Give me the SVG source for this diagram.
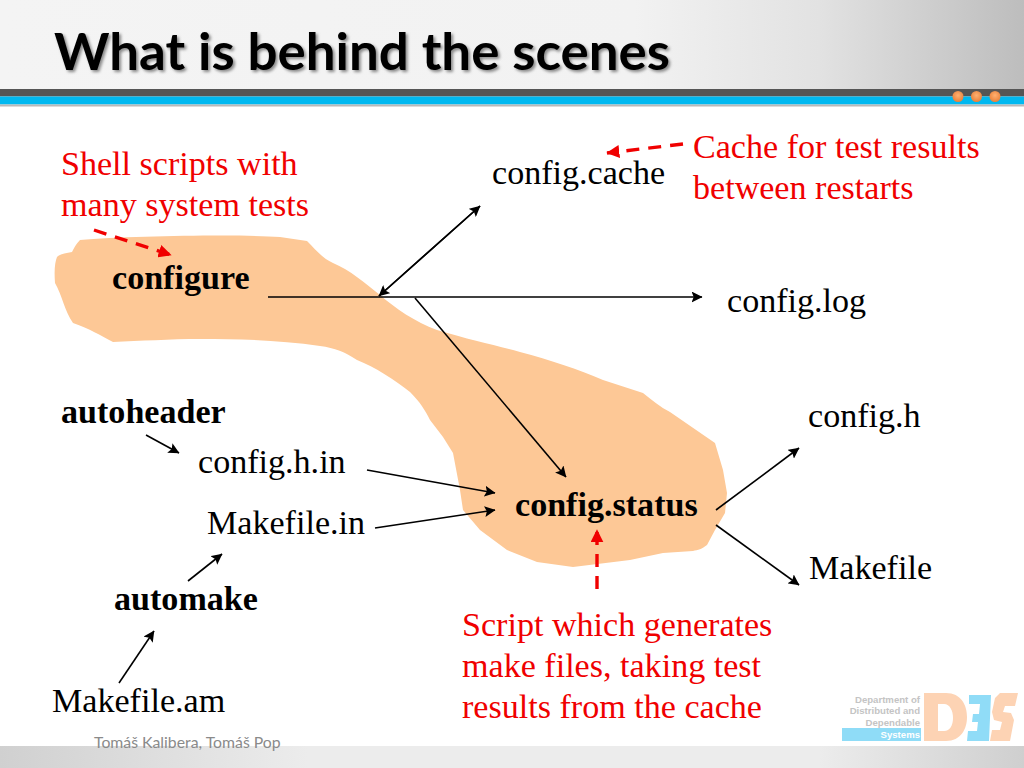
<svg xmlns="http://www.w3.org/2000/svg" width="1024" height="768" viewBox="0 0 1024 768">
<style>
.t{font-family:"Liberation Serif",serif;font-size:34.1px;fill:#000}
.b{font-weight:bold}
.r{fill:#f00000}
.c{stroke:#000;stroke-width:1.6;fill:none}
.d{stroke:#f00000;stroke-width:3.4;fill:none;stroke-dasharray:13 9}
.ti{font-family:Lato,"Open Sans",sans-serif;font-weight:700;font-size:52px}
.lg{font-family:"Liberation Sans",sans-serif;font-weight:bold;font-size:9.6px;fill:#c4c4c4;text-anchor:end}
</style>
<defs>
<linearGradient id="hd" x1="0" x2="1" y1="0" y2="0"><stop offset="0" stop-color="#f4f4f4"/><stop offset=".62" stop-color="#f2f2f2"/><stop offset=".8" stop-color="#e2e2e2"/><stop offset="1" stop-color="#bdbdbd"/></linearGradient>
<linearGradient id="ft" x1="0" x2="1" y1="0" y2="0"><stop offset="0" stop-color="#d0d0d0"/><stop offset=".3" stop-color="#ececec"/><stop offset=".8" stop-color="#ececec"/><stop offset="1" stop-color="#cfcfcf"/></linearGradient>
<radialGradient id="ball" cx=".5" cy=".4" r=".6"><stop offset="0" stop-color="#ffb070"/><stop offset="1" stop-color="#e8803a"/></radialGradient>
<marker id="a" viewBox="0 0 10 10" refX="9.5" refY="5" markerWidth="11" markerHeight="11" markerUnits="userSpaceOnUse" orient="auto"><path d="M0 0L10 5L0 10L2 5Z" fill="#000"/></marker>
<marker id="ar" viewBox="0 0 10 10" refX="9.5" refY="5" markerWidth="13" markerHeight="13" markerUnits="userSpaceOnUse" orient="auto"><path d="M0 0L10 5L0 10Z" fill="#f00000"/></marker>
<filter id="sh" x="-5%" y="-20%" width="110%" height="140%"><feGaussianBlur stdDeviation="1.6"/></filter>
</defs>
<rect width="1024" height="768" fill="#fff"/>
<g id="header">
<rect width="1024" height="90" fill="url(#hd)"/>
<rect y="89" width="1024" height="7.500" fill="#555"/>
<rect y="96.500" width="1024" height="8" fill="#00b8f0"/>
<rect y="104.500" width="1024" height="2" fill="#b8b8b8"/>
<circle cx="958" cy="96.500" r="5.500" fill="url(#ball)"/>
<circle cx="976.500" cy="96.500" r="5.500" fill="url(#ball)"/>
<circle cx="995" cy="96.500" r="5.500" fill="url(#ball)"/>
<text class="ti" x="56" y="72" fill="#888" filter="url(#sh)" textLength="616" lengthAdjust="spacingAndGlyphs">What is behind the scenes</text>
<text class="ti" x="54" y="70" fill="#000" textLength="616" lengthAdjust="spacingAndGlyphs">What is behind the scenes</text>
</g>
<g id="footer">
<rect y="746" width="1024" height="22" fill="url(#ft)"/>
<text x="94" y="748" font-family="Lato,sans-serif" font-size="15.800" fill="#8a8a8a">Tomáš Kalibera, Tomáš Pop</text>
</g>
<g id="logo">
<text class="lg" x="920" y="702.500">Department of</text>
<text class="lg" x="920" y="714">Distributed and</text>
<text class="lg" x="920" y="725.500">Dependable</text>
<rect x="842" y="728" width="79" height="13" fill="#8fdcf7"/>
<text class="lg" x="920" y="738" style="fill:#fff">Systems</text>
<path d="M924 693H946C961 693 967 705 967 717S961 741 946 741H924ZM938 704V731H944C950 731 953 725 953 718S950 704 944 704Z" fill="#fdd3b4" fill-rule="evenodd"/>
<path d="M969 695H991L989 741H967L968 731H977L978 722H972L973 714H979L980 704H969Z" fill="#90dcf7"/>
<path d="M1000 693H1018L1015 706H1005L1003 712L1011 713L1014 720L1010 741H990L992 730H1000L1002 722L994 720L992 712L995 698Z" fill="#fdd3b4"/>
</g>
<g id="blob">
<path d="M80 240C130 236 240 234 280 237L307 241C316 250 322 258 333 263C350 270 365 283 380 295C395 308 415 322 437 330C470 340 495 345 520 352C550 360 580 370 603 380L643 393C652 400 660 407 670 412L715 443L723 470L727 493L725 513L715 530L707 545C702 549 698 550 693 551L663 553L630 560L573 567L537 562L507 550L480 530L463 510L460 490L453 453L443 437L430 420C425 410 420 402 410 392C395 380 375 367 357 360C345 352 335 348 320 346C280 340 240 339 200 339C170 339 140 341 113 342C100 335 90 329 73 323C65 312 62 295 55 283C54 270 55 262 57 257C60 254 66 253 72 252C74 248 76 244 80 240Z" fill="#fdc896"/>
</g>
<g id="connectors">
<path class="c" d="M268 297L702 297" marker-end="url(#a)"/>
<path class="c" d="M480 206L379 296" marker-end="url(#a)"/>
<path class="c" d="M379 296L480 206" marker-end="url(#a)"/>
<path class="c" d="M415 298L566 477" marker-end="url(#a)"/>
<path class="c" d="M146 435L179 453" marker-end="url(#a)"/>
<path class="c" d="M367 470L495 493" marker-end="url(#a)"/>
<path class="c" d="M375 528L495 510" marker-end="url(#a)"/>
<path class="c" d="M188 581L222 554" marker-end="url(#a)"/>
<path class="c" d="M119 683L154 631" marker-end="url(#a)"/>
<path class="c" d="M716 510L799 448" marker-end="url(#a)"/>
<path class="c" d="M716 525L799 585" marker-end="url(#a)"/>
<path class="d" d="M94 230L171 255" marker-end="url(#ar)"/>
<path class="d" d="M683 144L607 153" marker-end="url(#ar)"/>
<path class="d" d="M597 589L597 530" marker-end="url(#ar)"/>
</g>
<g id="n-note1"><text class="t r" x="61" y="175">Shell scripts with</text><text class="t r" x="61" y="216">many system tests</text></g>
<g id="n-cache"><text class="t" x="492" y="184">config.cache</text></g>
<g id="n-note2"><text class="t r" x="693" y="158">Cache for test results</text><text class="t r" x="693" y="199">between restarts</text></g>
<g id="n-configure"><text class="t b" x="112" y="289">configure</text></g>
<g id="n-log"><text class="t" x="727" y="312">config.log</text></g>
<g id="n-autoheader"><text class="t b" x="61" y="423">autoheader</text></g>
<g id="n-hin"><text class="t" x="198" y="473">config.h.in</text></g>
<g id="n-h"><text class="t" x="808" y="427">config.h</text></g>
<g id="n-min"><text class="t" x="207" y="534">Makefile.in</text></g>
<g id="n-status"><text class="t b" x="515" y="516">config.status</text></g>
<g id="n-makefile"><text class="t" x="809" y="579">Makefile</text></g>
<g id="n-automake"><text class="t b" x="114" y="610">automake</text></g>
<g id="n-am"><text class="t" x="52" y="712">Makefile.am</text></g>
<g id="n-note3"><text class="t r" x="462" y="636">Script which generates</text><text class="t r" x="462" y="677">make files, taking test</text><text class="t r" x="462" y="718">results from the cache</text></g>
</svg>
